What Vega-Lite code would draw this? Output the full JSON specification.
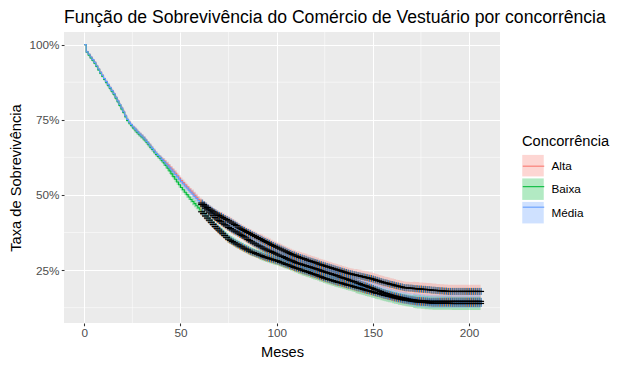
{
"$schema": "https://vega.github.io/schema/vega-lite/v6.json",
"width": 436, "height": 291,
"autosize": {"type": "none"},
"padding": {"left": 64, "top": 32, "right": 131, "bottom": 45},
"title": {"text": "Função de Sobrevivência do Comércio de Vestuário por concorrência", "anchor": "start", "frame": "group", "font": "Liberation Sans", "fontSize": 17.6, "fontWeight": "normal", "color": "#000000", "offset": 5.5},
"datasets": {"surv": [
{"t":0,"g":"Alta","s":100,"lo":100,"hi":100},
{"t":1,"g":"Alta","s":97.6,"lo":97.2,"hi":98.0},
{"t":2,"g":"Alta","s":96.8,"lo":96.4,"hi":97.2},
{"t":3,"g":"Alta","s":95.9,"lo":95.5,"hi":96.3},
{"t":4,"g":"Alta","s":95.0,"lo":94.6,"hi":95.4},
{"t":5,"g":"Alta","s":94.1,"lo":93.7,"hi":94.5},
{"t":6,"g":"Alta","s":93.0,"lo":92.6,"hi":93.4},
{"t":7,"g":"Alta","s":91.9,"lo":91.5,"hi":92.3},
{"t":8,"g":"Alta","s":90.8,"lo":90.4,"hi":91.2},
{"t":9,"g":"Alta","s":89.8,"lo":89.4,"hi":90.2},
{"t":10,"g":"Alta","s":88.7,"lo":88.3,"hi":89.1},
{"t":11,"g":"Alta","s":87.7,"lo":87.1,"hi":88.3},
{"t":12,"g":"Alta","s":86.7,"lo":86.1,"hi":87.3},
{"t":13,"g":"Alta","s":85.7,"lo":85.1,"hi":86.3},
{"t":14,"g":"Alta","s":84.7,"lo":84.1,"hi":85.3},
{"t":15,"g":"Alta","s":83.7,"lo":83.1,"hi":84.3},
{"t":16,"g":"Alta","s":82.5,"lo":81.9,"hi":83.1},
{"t":17,"g":"Alta","s":81.3,"lo":80.7,"hi":81.9},
{"t":18,"g":"Alta","s":80.1,"lo":79.5,"hi":80.7},
{"t":19,"g":"Alta","s":78.9,"lo":78.3,"hi":79.5},
{"t":20,"g":"Alta","s":77.7,"lo":77.1,"hi":78.3},
{"t":21,"g":"Alta","s":76.3,"lo":75.7,"hi":76.9},
{"t":22,"g":"Alta","s":75.1,"lo":74.5,"hi":75.7},
{"t":23,"g":"Alta","s":74.2,"lo":73.6,"hi":74.8},
{"t":24,"g":"Alta","s":73.4,"lo":72.8,"hi":74.0},
{"t":25,"g":"Alta","s":72.6,"lo":72.0,"hi":73.2},
{"t":26,"g":"Alta","s":71.9,"lo":71.1,"hi":72.7},
{"t":27,"g":"Alta","s":71.2,"lo":70.4,"hi":72.0},
{"t":28,"g":"Alta","s":70.5,"lo":69.7,"hi":71.3},
{"t":29,"g":"Alta","s":69.9,"lo":69.1,"hi":70.7},
{"t":30,"g":"Alta","s":69.3,"lo":68.5,"hi":70.1},
{"t":31,"g":"Alta","s":68.6,"lo":67.8,"hi":69.4},
{"t":32,"g":"Alta","s":67.8,"lo":67.0,"hi":68.6},
{"t":33,"g":"Alta","s":67.0,"lo":66.2,"hi":67.8},
{"t":34,"g":"Alta","s":66.2,"lo":65.4,"hi":67.0},
{"t":35,"g":"Alta","s":65.4,"lo":64.6,"hi":66.2},
{"t":36,"g":"Alta","s":64.6,"lo":63.8,"hi":65.4},
{"t":37,"g":"Alta","s":63.8,"lo":63.0,"hi":64.6},
{"t":38,"g":"Alta","s":63.1,"lo":62.3,"hi":63.9},
{"t":39,"g":"Alta","s":62.5,"lo":61.7,"hi":63.3},
{"t":40,"g":"Alta","s":61.9,"lo":61.1,"hi":62.7},
{"t":41,"g":"Alta","s":61.3,"lo":60.3,"hi":62.3},
{"t":42,"g":"Alta","s":60.6,"lo":59.6,"hi":61.6},
{"t":43,"g":"Alta","s":60.0,"lo":59.0,"hi":61.0},
{"t":44,"g":"Alta","s":59.3,"lo":58.3,"hi":60.3},
{"t":45,"g":"Alta","s":58.6,"lo":57.6,"hi":59.6},
{"t":46,"g":"Alta","s":57.9,"lo":56.9,"hi":58.9},
{"t":47,"g":"Alta","s":57.2,"lo":56.2,"hi":58.2},
{"t":48,"g":"Alta","s":56.4,"lo":55.4,"hi":57.4},
{"t":49,"g":"Alta","s":55.6,"lo":54.6,"hi":56.6},
{"t":50,"g":"Alta","s":54.8,"lo":53.8,"hi":55.8},
{"t":51,"g":"Alta","s":54.1,"lo":53.1,"hi":55.1},
{"t":52,"g":"Alta","s":53.4,"lo":52.4,"hi":54.4},
{"t":53,"g":"Alta","s":52.7,"lo":51.7,"hi":53.7},
{"t":54,"g":"Alta","s":52.0,"lo":51.0,"hi":53.0},
{"t":55,"g":"Alta","s":51.3,"lo":50.3,"hi":52.3},
{"t":56,"g":"Alta","s":50.6,"lo":49.4,"hi":51.8},
{"t":57,"g":"Alta","s":49.9,"lo":48.7,"hi":51.1},
{"t":58,"g":"Alta","s":49.2,"lo":48.0,"hi":50.4},
{"t":59,"g":"Alta","s":48.5,"lo":47.3,"hi":49.7},
{"t":60,"g":"Alta","s":47.9,"lo":46.7,"hi":49.1},
{"t":61,"g":"Alta","s":47.3,"lo":46.1,"hi":48.5},
{"t":62,"g":"Alta","s":46.8,"lo":45.6,"hi":48.0},
{"t":63,"g":"Alta","s":46.3,"lo":45.1,"hi":47.5},
{"t":64,"g":"Alta","s":45.8,"lo":44.6,"hi":47.0},
{"t":65,"g":"Alta","s":45.3,"lo":44.1,"hi":46.5},
{"t":66,"g":"Alta","s":44.9,"lo":43.7,"hi":46.1},
{"t":67,"g":"Alta","s":44.4,"lo":43.2,"hi":45.6},
{"t":68,"g":"Alta","s":44.0,"lo":42.8,"hi":45.2},
{"t":69,"g":"Alta","s":43.6,"lo":42.4,"hi":44.8},
{"t":70,"g":"Alta","s":43.2,"lo":42.0,"hi":44.4},
{"t":71,"g":"Alta","s":42.9,"lo":41.5,"hi":44.3},
{"t":72,"g":"Alta","s":42.5,"lo":41.1,"hi":43.9},
{"t":73,"g":"Alta","s":42.1,"lo":40.7,"hi":43.5},
{"t":74,"g":"Alta","s":41.8,"lo":40.4,"hi":43.2},
{"t":75,"g":"Alta","s":41.4,"lo":40.0,"hi":42.8},
{"t":76,"g":"Alta","s":41.0,"lo":39.6,"hi":42.4},
{"t":77,"g":"Alta","s":40.6,"lo":39.2,"hi":42.0},
{"t":78,"g":"Alta","s":40.2,"lo":38.8,"hi":41.6},
{"t":79,"g":"Alta","s":39.8,"lo":38.4,"hi":41.2},
{"t":80,"g":"Alta","s":39.3,"lo":37.9,"hi":40.7},
{"t":81,"g":"Alta","s":38.9,"lo":37.5,"hi":40.3},
{"t":82,"g":"Alta","s":38.5,"lo":37.1,"hi":39.9},
{"t":83,"g":"Alta","s":38.2,"lo":36.8,"hi":39.6},
{"t":84,"g":"Alta","s":37.8,"lo":36.4,"hi":39.2},
{"t":85,"g":"Alta","s":37.5,"lo":36.1,"hi":38.9},
{"t":86,"g":"Alta","s":37.2,"lo":35.8,"hi":38.6},
{"t":87,"g":"Alta","s":36.8,"lo":35.4,"hi":38.2},
{"t":88,"g":"Alta","s":36.5,"lo":35.1,"hi":37.9},
{"t":89,"g":"Alta","s":36.2,"lo":34.8,"hi":37.6},
{"t":90,"g":"Alta","s":35.8,"lo":34.4,"hi":37.2},
{"t":91,"g":"Alta","s":35.5,"lo":33.9,"hi":37.1},
{"t":92,"g":"Alta","s":35.2,"lo":33.6,"hi":36.8},
{"t":93,"g":"Alta","s":34.8,"lo":33.2,"hi":36.4},
{"t":94,"g":"Alta","s":34.5,"lo":32.9,"hi":36.1},
{"t":95,"g":"Alta","s":34.2,"lo":32.6,"hi":35.8},
{"t":96,"g":"Alta","s":33.9,"lo":32.3,"hi":35.5},
{"t":97,"g":"Alta","s":33.5,"lo":31.9,"hi":35.1},
{"t":98,"g":"Alta","s":33.2,"lo":31.6,"hi":34.8},
{"t":99,"g":"Alta","s":32.9,"lo":31.3,"hi":34.5},
{"t":100,"g":"Alta","s":32.6,"lo":31.0,"hi":34.2},
{"t":101,"g":"Alta","s":32.3,"lo":30.7,"hi":33.9},
{"t":102,"g":"Alta","s":32.0,"lo":30.4,"hi":33.6},
{"t":103,"g":"Alta","s":31.7,"lo":30.1,"hi":33.3},
{"t":104,"g":"Alta","s":31.4,"lo":29.8,"hi":33.0},
{"t":105,"g":"Alta","s":31.1,"lo":29.5,"hi":32.7},
{"t":106,"g":"Alta","s":30.8,"lo":29.2,"hi":32.4},
{"t":107,"g":"Alta","s":30.5,"lo":28.9,"hi":32.1},
{"t":108,"g":"Alta","s":30.2,"lo":28.6,"hi":31.8},
{"t":109,"g":"Alta","s":30.0,"lo":28.4,"hi":31.6},
{"t":110,"g":"Alta","s":29.7,"lo":28.1,"hi":31.3},
{"t":111,"g":"Alta","s":29.5,"lo":27.7,"hi":31.3},
{"t":112,"g":"Alta","s":29.2,"lo":27.4,"hi":31.0},
{"t":113,"g":"Alta","s":29.0,"lo":27.2,"hi":30.8},
{"t":114,"g":"Alta","s":28.8,"lo":27.0,"hi":30.6},
{"t":115,"g":"Alta","s":28.6,"lo":26.8,"hi":30.4},
{"t":116,"g":"Alta","s":28.3,"lo":26.5,"hi":30.1},
{"t":117,"g":"Alta","s":28.1,"lo":26.3,"hi":29.9},
{"t":118,"g":"Alta","s":27.9,"lo":26.1,"hi":29.7},
{"t":119,"g":"Alta","s":27.7,"lo":25.9,"hi":29.5},
{"t":120,"g":"Alta","s":27.5,"lo":25.7,"hi":29.3},
{"t":121,"g":"Alta","s":27.3,"lo":25.5,"hi":29.1},
{"t":122,"g":"Alta","s":27.0,"lo":25.2,"hi":28.8},
{"t":123,"g":"Alta","s":26.8,"lo":25.0,"hi":28.6},
{"t":124,"g":"Alta","s":26.6,"lo":24.8,"hi":28.4},
{"t":125,"g":"Alta","s":26.4,"lo":24.6,"hi":28.2},
{"t":126,"g":"Alta","s":26.2,"lo":24.4,"hi":28.0},
{"t":127,"g":"Alta","s":26.0,"lo":24.2,"hi":27.8},
{"t":128,"g":"Alta","s":25.8,"lo":24.0,"hi":27.6},
{"t":129,"g":"Alta","s":25.6,"lo":23.8,"hi":27.4},
{"t":130,"g":"Alta","s":25.4,"lo":23.6,"hi":27.2},
{"t":131,"g":"Alta","s":25.2,"lo":23.4,"hi":27.0},
{"t":132,"g":"Alta","s":25.0,"lo":23.2,"hi":26.8},
{"t":133,"g":"Alta","s":24.8,"lo":23.0,"hi":26.6},
{"t":134,"g":"Alta","s":24.6,"lo":22.8,"hi":26.4},
{"t":135,"g":"Alta","s":24.4,"lo":22.6,"hi":26.2},
{"t":136,"g":"Alta","s":24.2,"lo":22.4,"hi":26.0},
{"t":137,"g":"Alta","s":24.0,"lo":22.2,"hi":25.8},
{"t":138,"g":"Alta","s":23.8,"lo":22.0,"hi":25.6},
{"t":139,"g":"Alta","s":23.7,"lo":21.9,"hi":25.5},
{"t":140,"g":"Alta","s":23.5,"lo":21.7,"hi":25.3},
{"t":141,"g":"Alta","s":23.4,"lo":21.4,"hi":25.4},
{"t":142,"g":"Alta","s":23.2,"lo":21.2,"hi":25.2},
{"t":143,"g":"Alta","s":23.1,"lo":21.1,"hi":25.1},
{"t":144,"g":"Alta","s":22.9,"lo":20.9,"hi":24.9},
{"t":145,"g":"Alta","s":22.8,"lo":20.8,"hi":24.8},
{"t":146,"g":"Alta","s":22.6,"lo":20.6,"hi":24.6},
{"t":147,"g":"Alta","s":22.5,"lo":20.5,"hi":24.5},
{"t":148,"g":"Alta","s":22.3,"lo":20.3,"hi":24.3},
{"t":149,"g":"Alta","s":22.2,"lo":20.2,"hi":24.2},
{"t":150,"g":"Alta","s":22.0,"lo":20.0,"hi":24.0},
{"t":151,"g":"Alta","s":21.8,"lo":19.8,"hi":23.8},
{"t":152,"g":"Alta","s":21.6,"lo":19.6,"hi":23.6},
{"t":153,"g":"Alta","s":21.4,"lo":19.4,"hi":23.4},
{"t":154,"g":"Alta","s":21.2,"lo":19.2,"hi":23.2},
{"t":155,"g":"Alta","s":21.0,"lo":19.0,"hi":23.0},
{"t":156,"g":"Alta","s":20.8,"lo":18.8,"hi":22.8},
{"t":157,"g":"Alta","s":20.7,"lo":18.7,"hi":22.7},
{"t":158,"g":"Alta","s":20.5,"lo":18.5,"hi":22.5},
{"t":159,"g":"Alta","s":20.3,"lo":18.3,"hi":22.3},
{"t":160,"g":"Alta","s":20.2,"lo":18.2,"hi":22.2},
{"t":161,"g":"Alta","s":20.0,"lo":18.0,"hi":22.0},
{"t":162,"g":"Alta","s":19.8,"lo":17.8,"hi":21.8},
{"t":163,"g":"Alta","s":19.7,"lo":17.7,"hi":21.7},
{"t":164,"g":"Alta","s":19.5,"lo":17.5,"hi":21.5},
{"t":165,"g":"Alta","s":19.4,"lo":17.4,"hi":21.4},
{"t":166,"g":"Alta","s":19.2,"lo":17.2,"hi":21.2},
{"t":167,"g":"Alta","s":19.1,"lo":17.1,"hi":21.1},
{"t":168,"g":"Alta","s":19.1,"lo":17.1,"hi":21.1},
{"t":169,"g":"Alta","s":19.0,"lo":17.0,"hi":21.0},
{"t":170,"g":"Alta","s":19.0,"lo":17.0,"hi":21.0},
{"t":171,"g":"Alta","s":18.9,"lo":16.7,"hi":21.1},
{"t":172,"g":"Alta","s":18.8,"lo":16.6,"hi":21.0},
{"t":173,"g":"Alta","s":18.8,"lo":16.6,"hi":21.0},
{"t":174,"g":"Alta","s":18.7,"lo":16.5,"hi":20.9},
{"t":175,"g":"Alta","s":18.7,"lo":16.5,"hi":20.9},
{"t":176,"g":"Alta","s":18.6,"lo":16.4,"hi":20.8},
{"t":177,"g":"Alta","s":18.6,"lo":16.4,"hi":20.8},
{"t":178,"g":"Alta","s":18.5,"lo":16.3,"hi":20.7},
{"t":179,"g":"Alta","s":18.5,"lo":16.3,"hi":20.7},
{"t":180,"g":"Alta","s":18.4,"lo":16.2,"hi":20.6},
{"t":181,"g":"Alta","s":18.3,"lo":16.1,"hi":20.5},
{"t":182,"g":"Alta","s":18.3,"lo":16.1,"hi":20.5},
{"t":183,"g":"Alta","s":18.2,"lo":16.0,"hi":20.4},
{"t":184,"g":"Alta","s":18.2,"lo":16.0,"hi":20.4},
{"t":185,"g":"Alta","s":18.1,"lo":15.9,"hi":20.3},
{"t":186,"g":"Alta","s":18.1,"lo":15.9,"hi":20.3},
{"t":187,"g":"Alta","s":18.0,"lo":15.8,"hi":20.2},
{"t":188,"g":"Alta","s":18.0,"lo":15.8,"hi":20.2},
{"t":189,"g":"Alta","s":17.9,"lo":15.7,"hi":20.1},
{"t":190,"g":"Alta","s":17.9,"lo":15.7,"hi":20.1},
{"t":191,"g":"Alta","s":17.9,"lo":15.7,"hi":20.1},
{"t":192,"g":"Alta","s":17.9,"lo":15.7,"hi":20.1},
{"t":193,"g":"Alta","s":17.9,"lo":15.7,"hi":20.1},
{"t":194,"g":"Alta","s":17.9,"lo":15.7,"hi":20.1},
{"t":195,"g":"Alta","s":17.9,"lo":15.7,"hi":20.1},
{"t":196,"g":"Alta","s":17.9,"lo":15.7,"hi":20.1},
{"t":197,"g":"Alta","s":17.9,"lo":15.7,"hi":20.1},
{"t":198,"g":"Alta","s":17.9,"lo":15.7,"hi":20.1},
{"t":199,"g":"Alta","s":17.9,"lo":15.7,"hi":20.1},
{"t":200,"g":"Alta","s":17.9,"lo":15.7,"hi":20.1},
{"t":201,"g":"Alta","s":17.9,"lo":15.7,"hi":20.1},
{"t":202,"g":"Alta","s":17.9,"lo":15.7,"hi":20.1},
{"t":203,"g":"Alta","s":17.9,"lo":15.7,"hi":20.1},
{"t":204,"g":"Alta","s":17.9,"lo":15.7,"hi":20.1},
{"t":205,"g":"Alta","s":17.9,"lo":15.7,"hi":20.1},
{"t":206,"g":"Alta","s":17.9,"lo":15.7,"hi":20.1},
{"t":0,"g":"Baixa","s":100,"lo":100,"hi":100},
{"t":1,"g":"Baixa","s":97.5,"lo":97.1,"hi":97.9},
{"t":2,"g":"Baixa","s":96.5,"lo":96.1,"hi":96.9},
{"t":3,"g":"Baixa","s":95.6,"lo":95.2,"hi":96.0},
{"t":4,"g":"Baixa","s":94.7,"lo":94.3,"hi":95.1},
{"t":5,"g":"Baixa","s":93.8,"lo":93.4,"hi":94.2},
{"t":6,"g":"Baixa","s":92.7,"lo":92.3,"hi":93.1},
{"t":7,"g":"Baixa","s":91.6,"lo":91.2,"hi":92.0},
{"t":8,"g":"Baixa","s":90.5,"lo":90.1,"hi":90.9},
{"t":9,"g":"Baixa","s":89.5,"lo":89.1,"hi":89.9},
{"t":10,"g":"Baixa","s":88.4,"lo":88.0,"hi":88.8},
{"t":11,"g":"Baixa","s":87.4,"lo":86.8,"hi":88.0},
{"t":12,"g":"Baixa","s":86.4,"lo":85.8,"hi":87.0},
{"t":13,"g":"Baixa","s":85.4,"lo":84.8,"hi":86.0},
{"t":14,"g":"Baixa","s":84.4,"lo":83.8,"hi":85.0},
{"t":15,"g":"Baixa","s":83.4,"lo":82.8,"hi":84.0},
{"t":16,"g":"Baixa","s":82.2,"lo":81.6,"hi":82.8},
{"t":17,"g":"Baixa","s":81.0,"lo":80.4,"hi":81.6},
{"t":18,"g":"Baixa","s":79.8,"lo":79.2,"hi":80.4},
{"t":19,"g":"Baixa","s":78.6,"lo":78.0,"hi":79.2},
{"t":20,"g":"Baixa","s":77.4,"lo":76.8,"hi":78.0},
{"t":21,"g":"Baixa","s":76.0,"lo":75.4,"hi":76.6},
{"t":22,"g":"Baixa","s":74.8,"lo":74.2,"hi":75.4},
{"t":23,"g":"Baixa","s":73.9,"lo":73.3,"hi":74.5},
{"t":24,"g":"Baixa","s":73.1,"lo":72.5,"hi":73.7},
{"t":25,"g":"Baixa","s":72.3,"lo":71.7,"hi":72.9},
{"t":26,"g":"Baixa","s":71.6,"lo":70.8,"hi":72.4},
{"t":27,"g":"Baixa","s":70.9,"lo":70.1,"hi":71.7},
{"t":28,"g":"Baixa","s":70.2,"lo":69.4,"hi":71.0},
{"t":29,"g":"Baixa","s":69.6,"lo":68.8,"hi":70.4},
{"t":30,"g":"Baixa","s":69.0,"lo":68.2,"hi":69.8},
{"t":31,"g":"Baixa","s":68.3,"lo":67.5,"hi":69.1},
{"t":32,"g":"Baixa","s":67.5,"lo":66.7,"hi":68.3},
{"t":33,"g":"Baixa","s":66.7,"lo":65.9,"hi":67.5},
{"t":34,"g":"Baixa","s":65.9,"lo":65.1,"hi":66.7},
{"t":35,"g":"Baixa","s":65.1,"lo":64.3,"hi":65.9},
{"t":36,"g":"Baixa","s":64.3,"lo":63.5,"hi":65.1},
{"t":37,"g":"Baixa","s":63.5,"lo":62.7,"hi":64.3},
{"t":38,"g":"Baixa","s":62.8,"lo":62.0,"hi":63.6},
{"t":39,"g":"Baixa","s":62.2,"lo":61.4,"hi":63.0},
{"t":40,"g":"Baixa","s":61.4,"lo":60.6,"hi":62.2},
{"t":41,"g":"Baixa","s":60.6,"lo":59.6,"hi":61.6},
{"t":42,"g":"Baixa","s":59.8,"lo":58.8,"hi":60.8},
{"t":43,"g":"Baixa","s":58.9,"lo":57.9,"hi":59.9},
{"t":44,"g":"Baixa","s":58.0,"lo":57.0,"hi":59.0},
{"t":45,"g":"Baixa","s":57.0,"lo":56.0,"hi":58.0},
{"t":46,"g":"Baixa","s":56.1,"lo":55.1,"hi":57.1},
{"t":47,"g":"Baixa","s":55.2,"lo":54.2,"hi":56.2},
{"t":48,"g":"Baixa","s":54.3,"lo":53.3,"hi":55.3},
{"t":49,"g":"Baixa","s":53.4,"lo":52.4,"hi":54.4},
{"t":50,"g":"Baixa","s":52.5,"lo":51.5,"hi":53.5},
{"t":51,"g":"Baixa","s":51.7,"lo":50.7,"hi":52.7},
{"t":52,"g":"Baixa","s":50.9,"lo":49.9,"hi":51.9},
{"t":53,"g":"Baixa","s":50.1,"lo":49.1,"hi":51.1},
{"t":54,"g":"Baixa","s":49.3,"lo":48.3,"hi":50.3},
{"t":55,"g":"Baixa","s":48.5,"lo":47.5,"hi":49.5},
{"t":56,"g":"Baixa","s":47.8,"lo":46.6,"hi":49.0},
{"t":57,"g":"Baixa","s":47.1,"lo":45.9,"hi":48.3},
{"t":58,"g":"Baixa","s":46.4,"lo":45.2,"hi":47.6},
{"t":59,"g":"Baixa","s":45.7,"lo":44.5,"hi":46.9},
{"t":60,"g":"Baixa","s":45.0,"lo":43.8,"hi":46.2},
{"t":61,"g":"Baixa","s":44.4,"lo":43.2,"hi":45.6},
{"t":62,"g":"Baixa","s":43.8,"lo":42.6,"hi":45.0},
{"t":63,"g":"Baixa","s":43.0,"lo":41.8,"hi":44.2},
{"t":64,"g":"Baixa","s":42.3,"lo":41.1,"hi":43.5},
{"t":65,"g":"Baixa","s":41.6,"lo":40.4,"hi":42.8},
{"t":66,"g":"Baixa","s":40.9,"lo":39.7,"hi":42.1},
{"t":67,"g":"Baixa","s":40.2,"lo":39.0,"hi":41.4},
{"t":68,"g":"Baixa","s":39.5,"lo":38.3,"hi":40.7},
{"t":69,"g":"Baixa","s":38.9,"lo":37.7,"hi":40.1},
{"t":70,"g":"Baixa","s":38.3,"lo":37.1,"hi":39.5},
{"t":71,"g":"Baixa","s":37.7,"lo":36.3,"hi":39.1},
{"t":72,"g":"Baixa","s":37.1,"lo":35.7,"hi":38.5},
{"t":73,"g":"Baixa","s":36.5,"lo":35.1,"hi":37.9},
{"t":74,"g":"Baixa","s":35.9,"lo":34.5,"hi":37.3},
{"t":75,"g":"Baixa","s":35.3,"lo":33.9,"hi":36.7},
{"t":76,"g":"Baixa","s":34.9,"lo":33.5,"hi":36.3},
{"t":77,"g":"Baixa","s":34.5,"lo":33.1,"hi":35.9},
{"t":78,"g":"Baixa","s":34.1,"lo":32.7,"hi":35.5},
{"t":79,"g":"Baixa","s":33.7,"lo":32.3,"hi":35.1},
{"t":80,"g":"Baixa","s":33.4,"lo":32.0,"hi":34.8},
{"t":81,"g":"Baixa","s":33.0,"lo":31.6,"hi":34.4},
{"t":82,"g":"Baixa","s":32.7,"lo":31.3,"hi":34.1},
{"t":83,"g":"Baixa","s":32.3,"lo":30.9,"hi":33.7},
{"t":84,"g":"Baixa","s":32.0,"lo":30.6,"hi":33.4},
{"t":85,"g":"Baixa","s":31.7,"lo":30.3,"hi":33.1},
{"t":86,"g":"Baixa","s":31.3,"lo":29.9,"hi":32.7},
{"t":87,"g":"Baixa","s":31.0,"lo":29.6,"hi":32.4},
{"t":88,"g":"Baixa","s":30.8,"lo":29.4,"hi":32.2},
{"t":89,"g":"Baixa","s":30.5,"lo":29.1,"hi":31.9},
{"t":90,"g":"Baixa","s":30.3,"lo":28.9,"hi":31.7},
{"t":91,"g":"Baixa","s":30.0,"lo":28.4,"hi":31.6},
{"t":92,"g":"Baixa","s":29.8,"lo":28.2,"hi":31.4},
{"t":93,"g":"Baixa","s":29.5,"lo":27.9,"hi":31.1},
{"t":94,"g":"Baixa","s":29.3,"lo":27.7,"hi":30.9},
{"t":95,"g":"Baixa","s":29.1,"lo":27.5,"hi":30.7},
{"t":96,"g":"Baixa","s":28.9,"lo":27.3,"hi":30.5},
{"t":97,"g":"Baixa","s":28.7,"lo":27.1,"hi":30.3},
{"t":98,"g":"Baixa","s":28.5,"lo":26.9,"hi":30.1},
{"t":99,"g":"Baixa","s":28.3,"lo":26.7,"hi":29.9},
{"t":100,"g":"Baixa","s":28.1,"lo":26.5,"hi":29.7},
{"t":101,"g":"Baixa","s":27.9,"lo":26.3,"hi":29.5},
{"t":102,"g":"Baixa","s":27.6,"lo":26.0,"hi":29.2},
{"t":103,"g":"Baixa","s":27.4,"lo":25.8,"hi":29.0},
{"t":104,"g":"Baixa","s":27.1,"lo":25.5,"hi":28.7},
{"t":105,"g":"Baixa","s":26.9,"lo":25.3,"hi":28.5},
{"t":106,"g":"Baixa","s":26.7,"lo":25.1,"hi":28.3},
{"t":107,"g":"Baixa","s":26.4,"lo":24.8,"hi":28.0},
{"t":108,"g":"Baixa","s":26.2,"lo":24.6,"hi":27.8},
{"t":109,"g":"Baixa","s":25.9,"lo":24.3,"hi":27.5},
{"t":110,"g":"Baixa","s":25.7,"lo":24.1,"hi":27.3},
{"t":111,"g":"Baixa","s":25.5,"lo":23.7,"hi":27.3},
{"t":112,"g":"Baixa","s":25.3,"lo":23.5,"hi":27.1},
{"t":113,"g":"Baixa","s":25.0,"lo":23.2,"hi":26.8},
{"t":114,"g":"Baixa","s":24.8,"lo":23.0,"hi":26.6},
{"t":115,"g":"Baixa","s":24.6,"lo":22.8,"hi":26.4},
{"t":116,"g":"Baixa","s":24.4,"lo":22.6,"hi":26.2},
{"t":117,"g":"Baixa","s":24.2,"lo":22.4,"hi":26.0},
{"t":118,"g":"Baixa","s":23.9,"lo":22.1,"hi":25.7},
{"t":119,"g":"Baixa","s":23.7,"lo":21.9,"hi":25.5},
{"t":120,"g":"Baixa","s":23.5,"lo":21.7,"hi":25.3},
{"t":121,"g":"Baixa","s":23.3,"lo":21.5,"hi":25.1},
{"t":122,"g":"Baixa","s":23.0,"lo":21.2,"hi":24.8},
{"t":123,"g":"Baixa","s":22.8,"lo":21.0,"hi":24.6},
{"t":124,"g":"Baixa","s":22.5,"lo":20.7,"hi":24.3},
{"t":125,"g":"Baixa","s":22.3,"lo":20.5,"hi":24.1},
{"t":126,"g":"Baixa","s":22.1,"lo":20.3,"hi":23.9},
{"t":127,"g":"Baixa","s":21.9,"lo":20.1,"hi":23.7},
{"t":128,"g":"Baixa","s":21.7,"lo":19.9,"hi":23.5},
{"t":129,"g":"Baixa","s":21.5,"lo":19.7,"hi":23.3},
{"t":130,"g":"Baixa","s":21.3,"lo":19.5,"hi":23.1},
{"t":131,"g":"Baixa","s":21.1,"lo":19.3,"hi":22.9},
{"t":132,"g":"Baixa","s":20.9,"lo":19.1,"hi":22.7},
{"t":133,"g":"Baixa","s":20.8,"lo":19.0,"hi":22.6},
{"t":134,"g":"Baixa","s":20.6,"lo":18.8,"hi":22.4},
{"t":135,"g":"Baixa","s":20.4,"lo":18.6,"hi":22.2},
{"t":136,"g":"Baixa","s":20.2,"lo":18.4,"hi":22.0},
{"t":137,"g":"Baixa","s":20.0,"lo":18.2,"hi":21.8},
{"t":138,"g":"Baixa","s":19.9,"lo":18.1,"hi":21.7},
{"t":139,"g":"Baixa","s":19.7,"lo":17.9,"hi":21.5},
{"t":140,"g":"Baixa","s":19.5,"lo":17.7,"hi":21.3},
{"t":141,"g":"Baixa","s":19.3,"lo":17.3,"hi":21.3},
{"t":142,"g":"Baixa","s":19.1,"lo":17.1,"hi":21.1},
{"t":143,"g":"Baixa","s":19.0,"lo":17.0,"hi":21.0},
{"t":144,"g":"Baixa","s":18.8,"lo":16.8,"hi":20.8},
{"t":145,"g":"Baixa","s":18.6,"lo":16.6,"hi":20.6},
{"t":146,"g":"Baixa","s":18.4,"lo":16.4,"hi":20.4},
{"t":147,"g":"Baixa","s":18.2,"lo":16.2,"hi":20.2},
{"t":148,"g":"Baixa","s":18.1,"lo":16.1,"hi":20.1},
{"t":149,"g":"Baixa","s":17.9,"lo":15.9,"hi":19.9},
{"t":150,"g":"Baixa","s":17.7,"lo":15.7,"hi":19.7},
{"t":151,"g":"Baixa","s":17.5,"lo":15.5,"hi":19.5},
{"t":152,"g":"Baixa","s":17.3,"lo":15.3,"hi":19.3},
{"t":153,"g":"Baixa","s":17.2,"lo":15.2,"hi":19.2},
{"t":154,"g":"Baixa","s":17.0,"lo":15.0,"hi":19.0},
{"t":155,"g":"Baixa","s":16.8,"lo":14.8,"hi":18.8},
{"t":156,"g":"Baixa","s":16.6,"lo":14.6,"hi":18.6},
{"t":157,"g":"Baixa","s":16.5,"lo":14.5,"hi":18.5},
{"t":158,"g":"Baixa","s":16.3,"lo":14.3,"hi":18.3},
{"t":159,"g":"Baixa","s":16.2,"lo":14.2,"hi":18.2},
{"t":160,"g":"Baixa","s":16.0,"lo":14.0,"hi":18.0},
{"t":161,"g":"Baixa","s":15.8,"lo":13.8,"hi":17.8},
{"t":162,"g":"Baixa","s":15.7,"lo":13.7,"hi":17.7},
{"t":163,"g":"Baixa","s":15.5,"lo":13.5,"hi":17.5},
{"t":164,"g":"Baixa","s":15.4,"lo":13.4,"hi":17.4},
{"t":165,"g":"Baixa","s":15.2,"lo":13.2,"hi":17.2},
{"t":166,"g":"Baixa","s":15.1,"lo":13.1,"hi":17.1},
{"t":167,"g":"Baixa","s":15.0,"lo":13.0,"hi":17.0},
{"t":168,"g":"Baixa","s":14.9,"lo":12.9,"hi":16.9},
{"t":169,"g":"Baixa","s":14.8,"lo":12.8,"hi":16.8},
{"t":170,"g":"Baixa","s":14.7,"lo":12.7,"hi":16.7},
{"t":171,"g":"Baixa","s":14.6,"lo":12.4,"hi":16.8},
{"t":172,"g":"Baixa","s":14.5,"lo":12.3,"hi":16.7},
{"t":173,"g":"Baixa","s":14.4,"lo":12.2,"hi":16.6},
{"t":174,"g":"Baixa","s":14.4,"lo":12.2,"hi":16.6},
{"t":175,"g":"Baixa","s":14.3,"lo":12.1,"hi":16.5},
{"t":176,"g":"Baixa","s":14.3,"lo":12.1,"hi":16.5},
{"t":177,"g":"Baixa","s":14.2,"lo":12.0,"hi":16.4},
{"t":178,"g":"Baixa","s":14.2,"lo":12.0,"hi":16.4},
{"t":179,"g":"Baixa","s":14.1,"lo":11.9,"hi":16.3},
{"t":180,"g":"Baixa","s":14.1,"lo":11.9,"hi":16.3},
{"t":181,"g":"Baixa","s":14.0,"lo":11.8,"hi":16.2},
{"t":182,"g":"Baixa","s":14.0,"lo":11.8,"hi":16.2},
{"t":183,"g":"Baixa","s":14.0,"lo":11.8,"hi":16.2},
{"t":184,"g":"Baixa","s":14.0,"lo":11.8,"hi":16.2},
{"t":185,"g":"Baixa","s":14.0,"lo":11.8,"hi":16.2},
{"t":186,"g":"Baixa","s":14.0,"lo":11.8,"hi":16.2},
{"t":187,"g":"Baixa","s":14.0,"lo":11.8,"hi":16.2},
{"t":188,"g":"Baixa","s":14.0,"lo":11.8,"hi":16.2},
{"t":189,"g":"Baixa","s":14.0,"lo":11.8,"hi":16.2},
{"t":190,"g":"Baixa","s":14.0,"lo":11.8,"hi":16.2},
{"t":191,"g":"Baixa","s":13.9,"lo":11.7,"hi":16.1},
{"t":192,"g":"Baixa","s":13.9,"lo":11.7,"hi":16.1},
{"t":193,"g":"Baixa","s":13.9,"lo":11.7,"hi":16.1},
{"t":194,"g":"Baixa","s":13.9,"lo":11.7,"hi":16.1},
{"t":195,"g":"Baixa","s":13.9,"lo":11.7,"hi":16.1},
{"t":196,"g":"Baixa","s":13.9,"lo":11.7,"hi":16.1},
{"t":197,"g":"Baixa","s":13.9,"lo":11.7,"hi":16.1},
{"t":198,"g":"Baixa","s":13.9,"lo":11.7,"hi":16.1},
{"t":199,"g":"Baixa","s":13.9,"lo":11.7,"hi":16.1},
{"t":200,"g":"Baixa","s":13.9,"lo":11.7,"hi":16.1},
{"t":201,"g":"Baixa","s":13.9,"lo":11.7,"hi":16.1},
{"t":202,"g":"Baixa","s":13.9,"lo":11.7,"hi":16.1},
{"t":203,"g":"Baixa","s":13.9,"lo":11.7,"hi":16.1},
{"t":204,"g":"Baixa","s":13.9,"lo":11.7,"hi":16.1},
{"t":205,"g":"Baixa","s":13.9,"lo":11.7,"hi":16.1},
{"t":206,"g":"Baixa","s":13.9,"lo":11.7,"hi":16.1},
{"t":0,"g":"Média","s":100,"lo":100,"hi":100},
{"t":1,"g":"Média","s":97.6,"lo":97.2,"hi":98.0},
{"t":2,"g":"Média","s":96.8,"lo":96.4,"hi":97.2},
{"t":3,"g":"Média","s":95.9,"lo":95.5,"hi":96.3},
{"t":4,"g":"Média","s":95.0,"lo":94.6,"hi":95.4},
{"t":5,"g":"Média","s":94.1,"lo":93.7,"hi":94.5},
{"t":6,"g":"Média","s":93.0,"lo":92.6,"hi":93.4},
{"t":7,"g":"Média","s":91.9,"lo":91.5,"hi":92.3},
{"t":8,"g":"Média","s":90.8,"lo":90.4,"hi":91.2},
{"t":9,"g":"Média","s":89.8,"lo":89.4,"hi":90.2},
{"t":10,"g":"Média","s":88.7,"lo":88.3,"hi":89.1},
{"t":11,"g":"Média","s":87.7,"lo":87.1,"hi":88.3},
{"t":12,"g":"Média","s":86.7,"lo":86.1,"hi":87.3},
{"t":13,"g":"Média","s":85.7,"lo":85.1,"hi":86.3},
{"t":14,"g":"Média","s":84.7,"lo":84.1,"hi":85.3},
{"t":15,"g":"Média","s":83.7,"lo":83.1,"hi":84.3},
{"t":16,"g":"Média","s":82.5,"lo":81.9,"hi":83.1},
{"t":17,"g":"Média","s":81.3,"lo":80.7,"hi":81.9},
{"t":18,"g":"Média","s":80.1,"lo":79.5,"hi":80.7},
{"t":19,"g":"Média","s":78.9,"lo":78.3,"hi":79.5},
{"t":20,"g":"Média","s":77.7,"lo":77.1,"hi":78.3},
{"t":21,"g":"Média","s":76.3,"lo":75.7,"hi":76.9},
{"t":22,"g":"Média","s":75.1,"lo":74.5,"hi":75.7},
{"t":23,"g":"Média","s":74.2,"lo":73.6,"hi":74.8},
{"t":24,"g":"Média","s":73.4,"lo":72.8,"hi":74.0},
{"t":25,"g":"Média","s":72.6,"lo":72.0,"hi":73.2},
{"t":26,"g":"Média","s":71.9,"lo":71.1,"hi":72.7},
{"t":27,"g":"Média","s":71.2,"lo":70.4,"hi":72.0},
{"t":28,"g":"Média","s":70.5,"lo":69.7,"hi":71.3},
{"t":29,"g":"Média","s":69.9,"lo":69.1,"hi":70.7},
{"t":30,"g":"Média","s":69.3,"lo":68.5,"hi":70.1},
{"t":31,"g":"Média","s":68.6,"lo":67.8,"hi":69.4},
{"t":32,"g":"Média","s":67.8,"lo":67.0,"hi":68.6},
{"t":33,"g":"Média","s":67.0,"lo":66.2,"hi":67.8},
{"t":34,"g":"Média","s":66.2,"lo":65.4,"hi":67.0},
{"t":35,"g":"Média","s":65.4,"lo":64.6,"hi":66.2},
{"t":36,"g":"Média","s":64.6,"lo":63.8,"hi":65.4},
{"t":37,"g":"Média","s":63.8,"lo":63.0,"hi":64.6},
{"t":38,"g":"Média","s":63.1,"lo":62.3,"hi":63.9},
{"t":39,"g":"Média","s":62.5,"lo":61.7,"hi":63.3},
{"t":40,"g":"Média","s":61.8,"lo":61.0,"hi":62.6},
{"t":41,"g":"Média","s":61.1,"lo":60.1,"hi":62.1},
{"t":42,"g":"Média","s":60.4,"lo":59.4,"hi":61.4},
{"t":43,"g":"Média","s":59.7,"lo":58.7,"hi":60.7},
{"t":44,"g":"Média","s":59.0,"lo":58.0,"hi":60.0},
{"t":45,"g":"Média","s":58.3,"lo":57.3,"hi":59.3},
{"t":46,"g":"Média","s":57.6,"lo":56.6,"hi":58.6},
{"t":47,"g":"Média","s":56.8,"lo":55.8,"hi":57.8},
{"t":48,"g":"Média","s":56.0,"lo":55.0,"hi":57.0},
{"t":49,"g":"Média","s":55.2,"lo":54.2,"hi":56.2},
{"t":50,"g":"Média","s":54.4,"lo":53.4,"hi":55.4},
{"t":51,"g":"Média","s":53.7,"lo":52.7,"hi":54.7},
{"t":52,"g":"Média","s":53.0,"lo":52.0,"hi":54.0},
{"t":53,"g":"Média","s":52.3,"lo":51.3,"hi":53.3},
{"t":54,"g":"Média","s":51.6,"lo":50.6,"hi":52.6},
{"t":55,"g":"Média","s":50.9,"lo":49.9,"hi":51.9},
{"t":56,"g":"Média","s":50.2,"lo":49.0,"hi":51.4},
{"t":57,"g":"Média","s":49.5,"lo":48.3,"hi":50.7},
{"t":58,"g":"Média","s":48.8,"lo":47.6,"hi":50.0},
{"t":59,"g":"Média","s":48.1,"lo":46.9,"hi":49.3},
{"t":60,"g":"Média","s":47.4,"lo":46.2,"hi":48.6},
{"t":61,"g":"Média","s":46.8,"lo":45.6,"hi":48.0},
{"t":62,"g":"Média","s":46.3,"lo":45.1,"hi":47.5},
{"t":63,"g":"Média","s":45.6,"lo":44.4,"hi":46.8},
{"t":64,"g":"Média","s":45.0,"lo":43.8,"hi":46.2},
{"t":65,"g":"Média","s":44.3,"lo":43.1,"hi":45.5},
{"t":66,"g":"Média","s":43.7,"lo":42.5,"hi":44.9},
{"t":67,"g":"Média","s":43.1,"lo":41.9,"hi":44.3},
{"t":68,"g":"Média","s":42.5,"lo":41.3,"hi":43.7},
{"t":69,"g":"Média","s":42.0,"lo":40.8,"hi":43.2},
{"t":70,"g":"Média","s":41.5,"lo":40.3,"hi":42.7},
{"t":71,"g":"Média","s":41.1,"lo":39.7,"hi":42.5},
{"t":72,"g":"Média","s":40.6,"lo":39.2,"hi":42.0},
{"t":73,"g":"Média","s":40.1,"lo":38.7,"hi":41.5},
{"t":74,"g":"Média","s":39.7,"lo":38.3,"hi":41.1},
{"t":75,"g":"Média","s":39.2,"lo":37.8,"hi":40.6},
{"t":76,"g":"Média","s":38.8,"lo":37.4,"hi":40.2},
{"t":77,"g":"Média","s":38.4,"lo":37.0,"hi":39.8},
{"t":78,"g":"Média","s":38.0,"lo":36.6,"hi":39.4},
{"t":79,"g":"Média","s":37.7,"lo":36.3,"hi":39.1},
{"t":80,"g":"Média","s":37.3,"lo":35.9,"hi":38.7},
{"t":81,"g":"Média","s":36.9,"lo":35.5,"hi":38.3},
{"t":82,"g":"Média","s":36.5,"lo":35.1,"hi":37.9},
{"t":83,"g":"Média","s":36.1,"lo":34.7,"hi":37.5},
{"t":84,"g":"Média","s":35.7,"lo":34.3,"hi":37.1},
{"t":85,"g":"Média","s":35.2,"lo":33.8,"hi":36.6},
{"t":86,"g":"Média","s":34.8,"lo":33.4,"hi":36.2},
{"t":87,"g":"Média","s":34.4,"lo":33.0,"hi":35.8},
{"t":88,"g":"Média","s":34.0,"lo":32.6,"hi":35.4},
{"t":89,"g":"Média","s":33.7,"lo":32.3,"hi":35.1},
{"t":90,"g":"Média","s":33.3,"lo":31.9,"hi":34.7},
{"t":91,"g":"Média","s":33.0,"lo":31.4,"hi":34.6},
{"t":92,"g":"Média","s":32.7,"lo":31.1,"hi":34.3},
{"t":93,"g":"Média","s":32.3,"lo":30.7,"hi":33.9},
{"t":94,"g":"Média","s":32.0,"lo":30.4,"hi":33.6},
{"t":95,"g":"Média","s":31.7,"lo":30.1,"hi":33.3},
{"t":96,"g":"Média","s":31.4,"lo":29.8,"hi":33.0},
{"t":97,"g":"Média","s":31.2,"lo":29.6,"hi":32.8},
{"t":98,"g":"Média","s":30.9,"lo":29.3,"hi":32.5},
{"t":99,"g":"Média","s":30.6,"lo":29.0,"hi":32.2},
{"t":100,"g":"Média","s":30.3,"lo":28.7,"hi":31.9},
{"t":101,"g":"Média","s":30.0,"lo":28.4,"hi":31.6},
{"t":102,"g":"Média","s":29.7,"lo":28.1,"hi":31.3},
{"t":103,"g":"Média","s":29.5,"lo":27.9,"hi":31.1},
{"t":104,"g":"Média","s":29.2,"lo":27.6,"hi":30.8},
{"t":105,"g":"Média","s":28.9,"lo":27.3,"hi":30.5},
{"t":106,"g":"Média","s":28.6,"lo":27.0,"hi":30.2},
{"t":107,"g":"Média","s":28.3,"lo":26.7,"hi":29.9},
{"t":108,"g":"Média","s":28.1,"lo":26.5,"hi":29.7},
{"t":109,"g":"Média","s":27.8,"lo":26.2,"hi":29.4},
{"t":110,"g":"Média","s":27.5,"lo":25.9,"hi":29.1},
{"t":111,"g":"Média","s":27.3,"lo":25.5,"hi":29.1},
{"t":112,"g":"Média","s":27.1,"lo":25.3,"hi":28.9},
{"t":113,"g":"Média","s":26.9,"lo":25.1,"hi":28.7},
{"t":114,"g":"Média","s":26.7,"lo":24.9,"hi":28.5},
{"t":115,"g":"Média","s":26.5,"lo":24.7,"hi":28.3},
{"t":116,"g":"Média","s":26.3,"lo":24.5,"hi":28.1},
{"t":117,"g":"Média","s":26.1,"lo":24.3,"hi":27.9},
{"t":118,"g":"Média","s":25.9,"lo":24.1,"hi":27.7},
{"t":119,"g":"Média","s":25.7,"lo":23.9,"hi":27.5},
{"t":120,"g":"Média","s":25.5,"lo":23.7,"hi":27.3},
{"t":121,"g":"Média","s":25.3,"lo":23.5,"hi":27.1},
{"t":122,"g":"Média","s":25.1,"lo":23.3,"hi":26.9},
{"t":123,"g":"Média","s":24.8,"lo":23.0,"hi":26.6},
{"t":124,"g":"Média","s":24.6,"lo":22.8,"hi":26.4},
{"t":125,"g":"Média","s":24.4,"lo":22.6,"hi":26.2},
{"t":126,"g":"Média","s":24.2,"lo":22.4,"hi":26.0},
{"t":127,"g":"Média","s":24.0,"lo":22.2,"hi":25.8},
{"t":128,"g":"Média","s":23.8,"lo":22.0,"hi":25.6},
{"t":129,"g":"Média","s":23.6,"lo":21.8,"hi":25.4},
{"t":130,"g":"Média","s":23.4,"lo":21.6,"hi":25.2},
{"t":131,"g":"Média","s":23.2,"lo":21.4,"hi":25.0},
{"t":132,"g":"Média","s":23.0,"lo":21.2,"hi":24.8},
{"t":133,"g":"Média","s":22.7,"lo":20.9,"hi":24.5},
{"t":134,"g":"Média","s":22.5,"lo":20.7,"hi":24.3},
{"t":135,"g":"Média","s":22.3,"lo":20.5,"hi":24.1},
{"t":136,"g":"Média","s":22.1,"lo":20.3,"hi":23.9},
{"t":137,"g":"Média","s":21.9,"lo":20.1,"hi":23.7},
{"t":138,"g":"Média","s":21.6,"lo":19.8,"hi":23.4},
{"t":139,"g":"Média","s":21.4,"lo":19.6,"hi":23.2},
{"t":140,"g":"Média","s":21.2,"lo":19.4,"hi":23.0},
{"t":141,"g":"Média","s":21.0,"lo":19.0,"hi":23.0},
{"t":142,"g":"Média","s":20.7,"lo":18.7,"hi":22.7},
{"t":143,"g":"Média","s":20.5,"lo":18.5,"hi":22.5},
{"t":144,"g":"Média","s":20.2,"lo":18.2,"hi":22.2},
{"t":145,"g":"Média","s":20.0,"lo":18.0,"hi":22.0},
{"t":146,"g":"Média","s":19.8,"lo":17.8,"hi":21.8},
{"t":147,"g":"Média","s":19.6,"lo":17.6,"hi":21.6},
{"t":148,"g":"Média","s":19.3,"lo":17.3,"hi":21.3},
{"t":149,"g":"Média","s":19.1,"lo":17.1,"hi":21.1},
{"t":150,"g":"Média","s":18.9,"lo":16.9,"hi":20.9},
{"t":151,"g":"Média","s":18.6,"lo":16.6,"hi":20.6},
{"t":152,"g":"Média","s":18.4,"lo":16.4,"hi":20.4},
{"t":153,"g":"Média","s":18.1,"lo":16.1,"hi":20.1},
{"t":154,"g":"Média","s":17.9,"lo":15.9,"hi":19.9},
{"t":155,"g":"Média","s":17.6,"lo":15.6,"hi":19.6},
{"t":156,"g":"Média","s":17.4,"lo":15.4,"hi":19.4},
{"t":157,"g":"Média","s":17.2,"lo":15.2,"hi":19.2},
{"t":158,"g":"Média","s":17.0,"lo":15.0,"hi":19.0},
{"t":159,"g":"Média","s":16.8,"lo":14.8,"hi":18.8},
{"t":160,"g":"Média","s":16.6,"lo":14.6,"hi":18.6},
{"t":161,"g":"Média","s":16.4,"lo":14.4,"hi":18.4},
{"t":162,"g":"Média","s":16.3,"lo":14.3,"hi":18.3},
{"t":163,"g":"Média","s":16.1,"lo":14.1,"hi":18.1},
{"t":164,"g":"Média","s":16.0,"lo":14.0,"hi":18.0},
{"t":165,"g":"Média","s":15.8,"lo":13.8,"hi":17.8},
{"t":166,"g":"Média","s":15.7,"lo":13.7,"hi":17.7},
{"t":167,"g":"Média","s":15.6,"lo":13.6,"hi":17.6},
{"t":168,"g":"Média","s":15.4,"lo":13.4,"hi":17.4},
{"t":169,"g":"Média","s":15.3,"lo":13.3,"hi":17.3},
{"t":170,"g":"Média","s":15.2,"lo":13.2,"hi":17.2},
{"t":171,"g":"Média","s":15.1,"lo":12.9,"hi":17.3},
{"t":172,"g":"Média","s":15.0,"lo":12.8,"hi":17.2},
{"t":173,"g":"Média","s":14.9,"lo":12.7,"hi":17.1},
{"t":174,"g":"Média","s":14.9,"lo":12.7,"hi":17.1},
{"t":175,"g":"Média","s":14.8,"lo":12.6,"hi":17.0},
{"t":176,"g":"Média","s":14.8,"lo":12.6,"hi":17.0},
{"t":177,"g":"Média","s":14.7,"lo":12.5,"hi":16.9},
{"t":178,"g":"Média","s":14.7,"lo":12.5,"hi":16.9},
{"t":179,"g":"Média","s":14.6,"lo":12.4,"hi":16.8},
{"t":180,"g":"Média","s":14.6,"lo":12.4,"hi":16.8},
{"t":181,"g":"Média","s":14.6,"lo":12.4,"hi":16.8},
{"t":182,"g":"Média","s":14.6,"lo":12.4,"hi":16.8},
{"t":183,"g":"Média","s":14.6,"lo":12.4,"hi":16.8},
{"t":184,"g":"Média","s":14.6,"lo":12.4,"hi":16.8},
{"t":185,"g":"Média","s":14.6,"lo":12.4,"hi":16.8},
{"t":186,"g":"Média","s":14.6,"lo":12.4,"hi":16.8},
{"t":187,"g":"Média","s":14.6,"lo":12.4,"hi":16.8},
{"t":188,"g":"Média","s":14.6,"lo":12.4,"hi":16.8},
{"t":189,"g":"Média","s":14.6,"lo":12.4,"hi":16.8},
{"t":190,"g":"Média","s":14.6,"lo":12.4,"hi":16.8},
{"t":191,"g":"Média","s":14.6,"lo":12.4,"hi":16.8},
{"t":192,"g":"Média","s":14.6,"lo":12.4,"hi":16.8},
{"t":193,"g":"Média","s":14.6,"lo":12.4,"hi":16.8},
{"t":194,"g":"Média","s":14.6,"lo":12.4,"hi":16.8},
{"t":195,"g":"Média","s":14.6,"lo":12.4,"hi":16.8},
{"t":196,"g":"Média","s":14.6,"lo":12.4,"hi":16.8},
{"t":197,"g":"Média","s":14.6,"lo":12.4,"hi":16.8},
{"t":198,"g":"Média","s":14.6,"lo":12.4,"hi":16.8},
{"t":199,"g":"Média","s":14.6,"lo":12.4,"hi":16.8},
{"t":200,"g":"Média","s":14.6,"lo":12.4,"hi":16.8},
{"t":201,"g":"Média","s":14.6,"lo":12.4,"hi":16.8},
{"t":202,"g":"Média","s":14.6,"lo":12.4,"hi":16.8},
{"t":203,"g":"Média","s":14.6,"lo":12.4,"hi":16.8},
{"t":204,"g":"Média","s":14.6,"lo":12.4,"hi":16.8},
{"t":205,"g":"Média","s":14.6,"lo":12.4,"hi":16.8},
{"t":206,"g":"Média","s":14.6,"lo":12.4,"hi":16.8}
]},
"data": {"name": "surv"},
"layer": [
{"data": {"values": [{"mx": 25}, {"mx": 75}, {"mx": 125}, {"mx": 175}]},
 "mark": {"type": "rule", "color": "#FFFFFF", "strokeWidth": 0.53},
 "encoding": {"x": {"field": "mx", "type": "quantitative", "scale": {"domain": [-10.55, 216.1], "nice": false, "zero": false}, "axis": {"values": [0, 50, 100, 150, 200], "format": "d", "title": "Meses"}}}},
{"data": {"values": [{"my": 12.5}, {"my": 37.5}, {"my": 62.5}, {"my": 87.5}]},
 "mark": {"type": "rule", "color": "#FFFFFF", "strokeWidth": 0.53},
 "encoding": {"y": {"field": "my", "type": "quantitative", "scale": {"domain": [7.4, 104.2], "nice": false, "zero": false}, "axis": {"values": [25, 50, 75, 100], "labelExpr": "datum.value + '%'", "title": "Taxa de Sobrevivência"}}}},
{"mark": {"type": "area", "interpolate": "step-after", "opacity": 0.3},
 "encoding": {
  "x": {"field": "t", "type": "quantitative", "scale": {"domain": [-10.55, 216.1], "nice": false, "zero": false}, "axis": {"values": [0, 50, 100, 150, 200], "format": "d", "title": "Meses"}},
  "y": {"field": "lo", "type": "quantitative", "scale": {"domain": [7.4, 104.2], "nice": false, "zero": false}, "axis": {"values": [25, 50, 75, 100], "labelExpr": "datum.value + '%'", "title": "Taxa de Sobrevivência"}},
  "y2": {"field": "hi"},
  "fill": {"field": "g", "type": "nominal", "scale": {"domain": ["Alta", "Baixa", "Média"], "range": ["#F8766D", "#00BA38", "#619CFF"]},
   "legend": {"title": "Concorrência", "orient": "none", "legendX": 458, "legendY": 102, "symbolType": "square", "symbolStrokeWidth": 0,
    "encode": {"symbols": {"update": {"opacity": {"value": 1}, "fill": {"signal": "datum.value === 'Alta' ? '#EFC8C5' : datum.value === 'Baixa' ? '#A5DCB5' : '#C2D3F1'"}}}}}}
 }},
{"mark": {"type": "line", "interpolate": "step-after", "strokeWidth": 1.07},
 "encoding": {
  "x": {"field": "t", "type": "quantitative", "scale": {"domain": [-10.55, 216.1], "nice": false, "zero": false}, "axis": {"values": [0, 50, 100, 150, 200], "format": "d", "title": "Meses"}},
  "y": {"field": "s", "type": "quantitative", "scale": {"domain": [7.4, 104.2], "nice": false, "zero": false}, "axis": {"values": [25, 50, 75, 100], "labelExpr": "datum.value + '%'", "title": "Taxa de Sobrevivência"}},
  "stroke": {"field": "g", "type": "nominal", "scale": {"range": ["#F8766D", "#00BA38", "#619CFF"]},
   "legend": {"title": "Concorrência", "orient": "none", "legendX": 458, "legendY": 102, "symbolType": "stroke", "symbolStrokeWidth": 1.07, "titleOpacity": 0, "labelOpacity": 0, "labelExpr": "''", "zindex": 2}}
 }},
{"transform": [{"filter": "datum.t >= 61"}],
 "mark": {"type": "point", "shape": "M0,-1V1", "size": 49, "filled": false, "stroke": "#E07B28", "strokeWidth": 1, "opacity": 1, "xOffset": -0.6},
 "encoding": {
  "x": {"field": "t", "type": "quantitative", "scale": {"domain": [-10.55, 216.1], "nice": false, "zero": false}, "axis": {"values": [0, 50, 100, 150, 200], "format": "d", "title": "Meses"}},
  "y": {"field": "s", "type": "quantitative", "scale": {"domain": [7.4, 104.2], "nice": false, "zero": false}, "axis": {"values": [25, 50, 75, 100], "labelExpr": "datum.value + '%'", "title": "Taxa de Sobrevivência"}}
 }},
{"transform": [{"filter": "datum.t >= 61"}],
 "mark": {"type": "point", "shape": "M0,-1V1", "size": 49, "filled": false, "stroke": "#1E6EBE", "strokeWidth": 1, "opacity": 1, "xOffset": 0.6},
 "encoding": {
  "x": {"field": "t", "type": "quantitative", "scale": {"domain": [-10.55, 216.1], "nice": false, "zero": false}, "axis": {"values": [0, 50, 100, 150, 200], "format": "d", "title": "Meses"}},
  "y": {"field": "s", "type": "quantitative", "scale": {"domain": [7.4, 104.2], "nice": false, "zero": false}, "axis": {"values": [25, 50, 75, 100], "labelExpr": "datum.value + '%'", "title": "Taxa de Sobrevivência"}}
 }},
{"transform": [{"filter": "datum.t >= 61"}],
 "mark": {"type": "point", "shape": "M-1,0H1", "size": 49, "filled": false, "stroke": "#000000", "strokeWidth": 1.2, "opacity": 1},
 "encoding": {
  "x": {"field": "t", "type": "quantitative", "scale": {"domain": [-10.55, 216.1], "nice": false, "zero": false}, "axis": {"values": [0, 50, 100, 150, 200], "format": "d", "title": "Meses"}},
  "y": {"field": "s", "type": "quantitative", "scale": {"domain": [7.4, 104.2], "nice": false, "zero": false}, "axis": {"values": [25, 50, 75, 100], "labelExpr": "datum.value + '%'", "title": "Taxa de Sobrevivência"}}
 }}
],
"config": {
 "view": {"fill": "#EBEBEB", "stroke": null},
 "font": "Liberation Sans",
 "axis": {"domain": false, "grid": true, "gridColor": "#FFFFFF", "gridWidth": 1.07, "tickColor": "#333333", "tickSize": 2.75, "tickWidth": 1.07, "labelColor": "#4D4D4D", "labelFont": "Liberation Sans", "labelFontSize": 11.73, "labelPadding": 2.2, "titleFont": "Liberation Sans", "titleFontSize": 14.67, "titleColor": "#000000", "titleFontWeight": "normal"},
 "axisX": {"titlePadding": 5},
 "axisY": {"titlePadding": 6},
 "legend": {"titleFont": "Liberation Sans", "titleFontSize": 14.67, "titleFontWeight": "normal", "titleColor": "#000000", "labelFont": "Liberation Sans", "labelFontSize": 11.73, "labelColor": "#000000", "padding": 0, "rowPadding": 1.5, "labelOffset": 7.5, "symbolSize": 462, "titlePadding": 6}
}
}
